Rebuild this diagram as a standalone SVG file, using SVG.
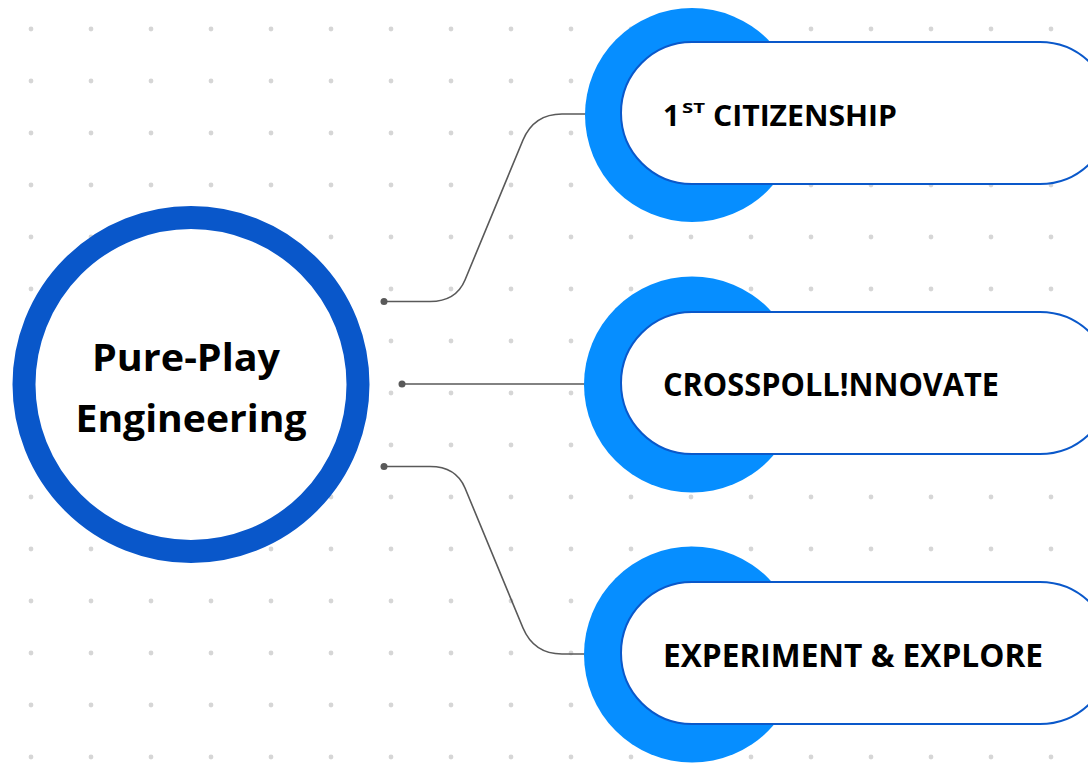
<svg xmlns="http://www.w3.org/2000/svg" width="1088" height="764" viewBox="0 0 1088 764">
  <style>
    .ring { fill: #ffffff; stroke: #0957ca; stroke-width: 23; }
    .halo { fill: #068eff; }
    .pill { fill: #ffffff; stroke: #0a58ca; stroke-width: 2; }
    .lbl { font-family: "Open Sans", "Noto Sans", sans-serif; font-weight: bold; fill: #000000; }
    .conn { fill: none; stroke: #595959; stroke-width: 1.6; }
    .end { fill: #595959; }
  </style>
  <defs>
    <pattern id="dots" patternUnits="userSpaceOnUse" x="1" y="3" width="60" height="52">
      <circle cx="30" cy="26" r="2.4" fill="#d6d6d6"/>
    </pattern>
  </defs>
  <rect x="0" y="0" width="1088" height="764" fill="#ffffff"/>
  <rect x="0" y="0" width="1088" height="764" fill="url(#dots)"/>

  <g id="connectors">
    <path class="conn" d="M384,301.5 H430 Q456,301.5 465,280 L523,140 Q534,114 562,114 H590"/>
    <path class="conn" d="M402,384 H590"/>
    <path class="conn" d="M384,466.5 H430 Q456,466.5 465,488 L523,628 Q534,654 562,654 H590"/>
    <circle class="end" cx="384" cy="301.5" r="3.5"/>
    <circle class="end" cx="402" cy="384" r="3.5"/>
    <circle class="end" cx="384" cy="466.5" r="3.5"/>
  </g>

  <g id="center">
    <circle class="ring" cx="191" cy="384.5" r="167"/>
    <text class="lbl" font-size="38" text-anchor="middle">
      <tspan x="191" y="371" textLength="188" lengthAdjust="spacingAndGlyphs">Pure-Play</tspan>
      <tspan x="191" y="432" textLength="231" lengthAdjust="spacingAndGlyphs">Engineering</tspan>
    </text>
  </g>

  <g id="node-citizenship">
    <circle class="halo" cx="692" cy="115" r="107"/>
    <rect class="pill" x="621" y="42" width="490" height="142" rx="71" ry="71"/>
    <text class="lbl" font-size="29">
      <tspan x="663" y="126">1</tspan><tspan x="682" y="113" font-size="15" textLength="23" lengthAdjust="spacingAndGlyphs">ST</tspan><tspan x="713" y="126" textLength="184" lengthAdjust="spacingAndGlyphs">CITIZENSHIP</tspan>
    </text>
  </g>

  <g id="node-crosspoll">
    <circle class="halo" cx="692" cy="384.5" r="108"/>
    <rect class="pill" x="621" y="312" width="490" height="142" rx="71" ry="71"/>
    <text class="lbl" font-size="32" x="663" y="396" textLength="336" lengthAdjust="spacingAndGlyphs">CROSSPOLL!NNOVATE</text>
  </g>

  <g id="node-experiment">
    <circle class="halo" cx="692" cy="654.5" r="108"/>
    <rect class="pill" x="621" y="582" width="490" height="142" rx="71" ry="71"/>
    <text class="lbl" font-size="32" x="663" y="666.5" textLength="380" lengthAdjust="spacingAndGlyphs">EXPERIMENT &amp; EXPLORE</text>
  </g>
</svg>
